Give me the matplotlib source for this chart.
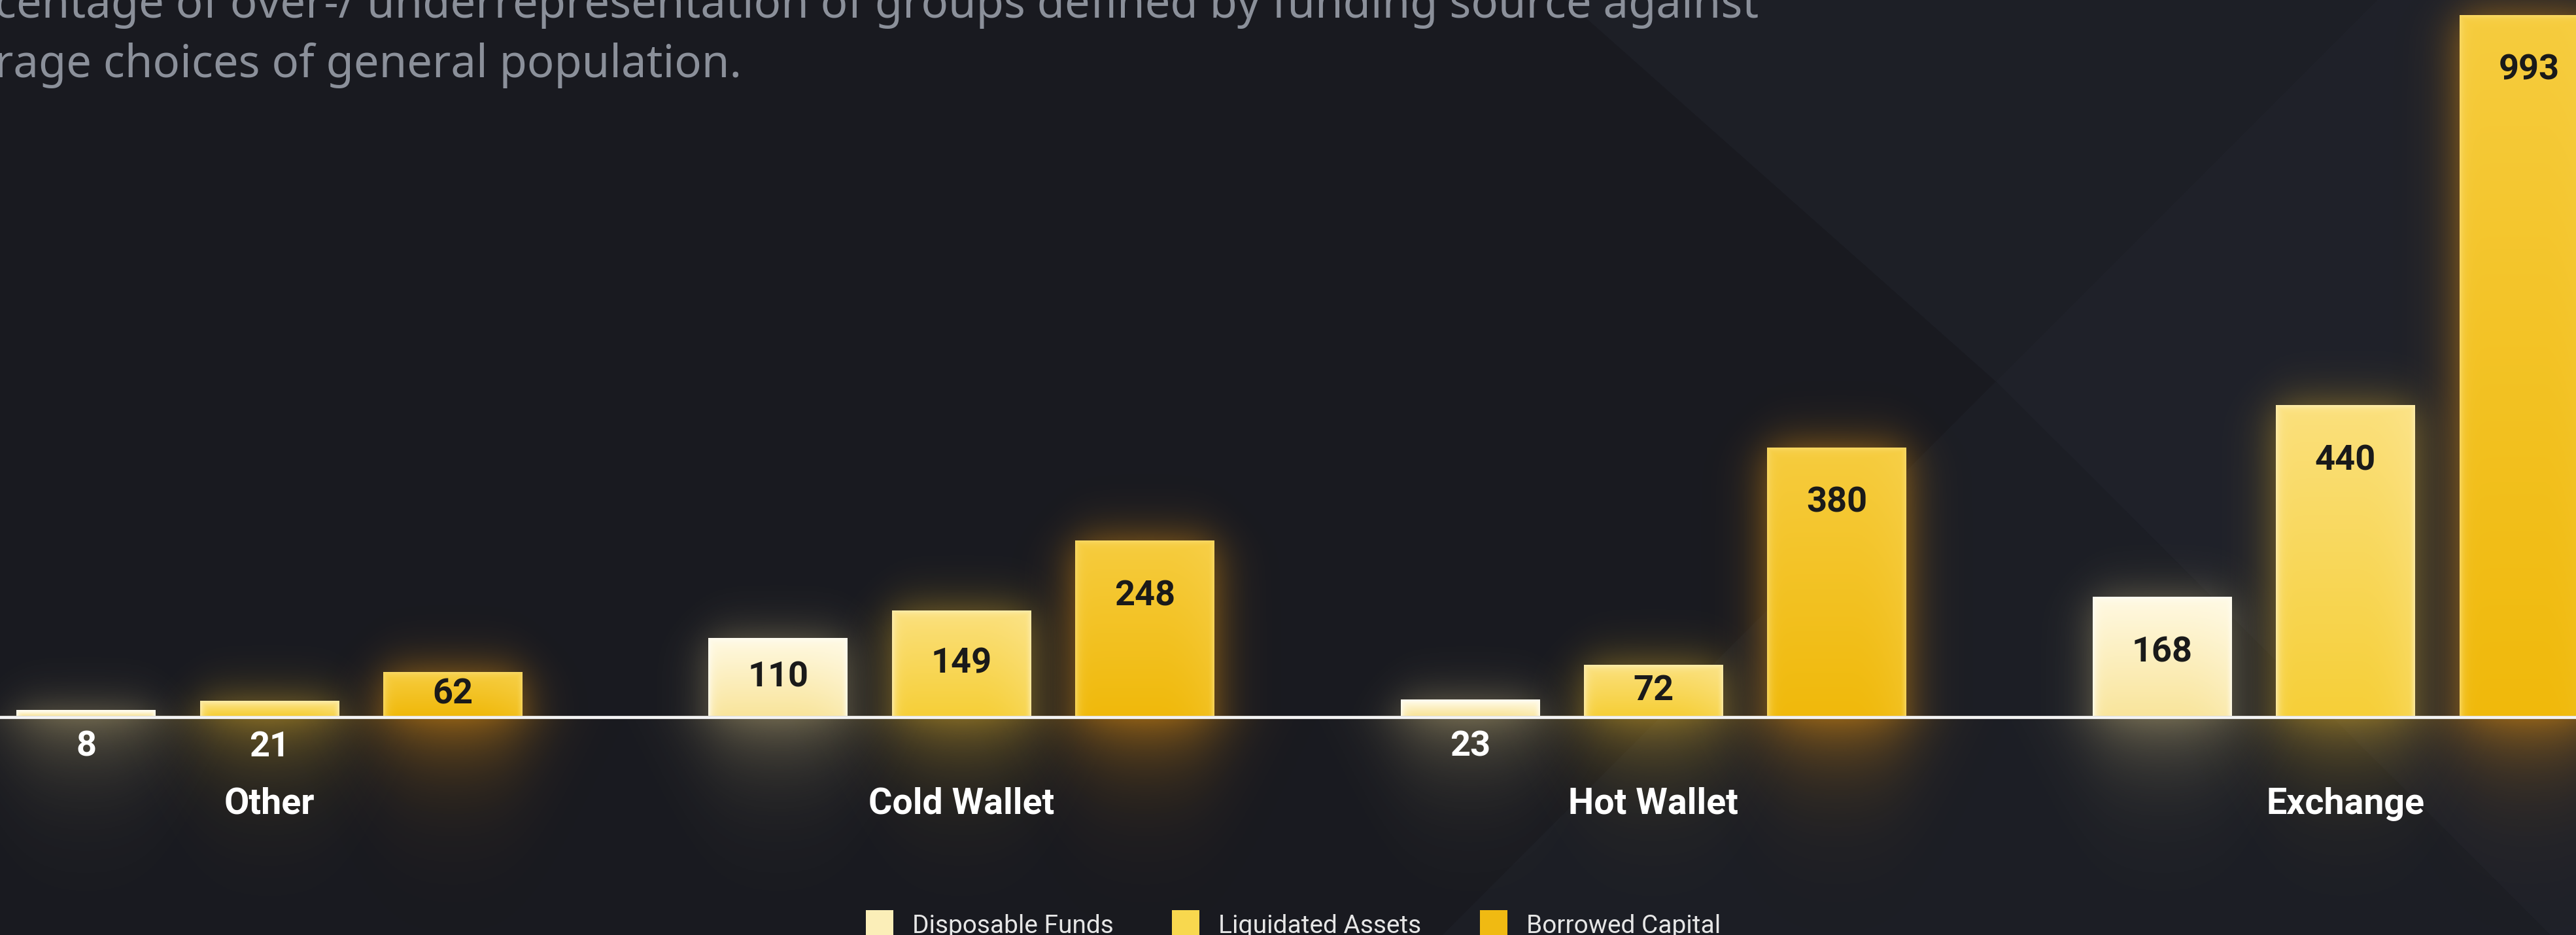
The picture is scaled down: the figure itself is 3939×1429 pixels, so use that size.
import numpy as np
import matplotlib
matplotlib.use('Agg')
import matplotlib.pyplot as plt
from matplotlib.colors import to_rgb
from matplotlib.patches import Polygon

plt.rcParams['font.family'] = ['Roboto', 'DejaVu Sans']

categories = ['Other', 'Cold Wallet', 'Hot Wallet', 'Exchange']
disposable_funds = [8, 110, 23, 168]
liquidated_assets = [21, 149, 72, 440]
borrowed_capital = [62, 248, 380, 993]
series_names = ['Disposable Funds', 'Liquidated Assets', 'Borrowed Capital']

subtitle = ['centage of over-/ underrepresentation of groups defined by funding source against',
            'rage choices of general population.']

BG = '#1b1d24'
BAR_W = 0.201
BAR_STEP = 0.265
XLIM = (-0.3893, 3.333)
YLIM = (-310.6, 1014.4)
PX_X = 3939 / (XLIM[1] - XLIM[0])   # pixels per x unit
PX_Y = 1429 / (YLIM[1] - YLIM[0])   # pixels per y unit

# top colour, bottom colour, rim colour, glow colour, flat colour
styles = [
    ('#fff9e2', '#f9e59c', '#fffdf4', '#e0cc8a', '#fbeeb8'),
    ('#fbe07c', '#f6cf38', '#fdeeb2', '#f0bc2a', '#f8d84e'),
    ('#f6cc3e', '#f0b90b', '#f9da6a', '#f0980e', '#f0ba12'),
]
# side glow, glow under the baseline
glow_alpha = [(0.45, 0.46), (0.55, 0.52), (0.65, 0.6)]


def sig(z):
    return 1.0 / (1.0 + np.exp(-z))


def bar_fill(ax, rect, top, bottom, rim):
    x0, w, h = rect.get_x(), rect.get_width(), rect.get_height()
    nx = 107
    ny = max(int(h * PX_Y / 2), 4)
    t = np.linspace(0, 1, ny)[:, None, None]
    img = np.array(to_rgb(top)) * (1 - t) + np.array(to_rgb(bottom)) * t
    img = np.repeat(img, nx, axis=1)
    xs = np.linspace(0, w * PX_X, nx)
    ys = np.linspace(0, h * PX_Y, ny)
    d_side = np.minimum(xs, xs[-1] - xs)[None, :]
    d_top = ys[:, None]
    edge = np.maximum(np.exp(-d_side / 6.0), np.exp(-d_top / 5.0)) * 0.8
    # broad soft sheen towards the right-hand side
    sheen = 0.25 * np.clip((xs / xs[-1] - 0.6) / 0.4, 0, 1)[None, :] ** 2
    edge = np.maximum(edge, sheen)
    img = img * (1 - edge[..., None]) + np.array(to_rgb(rim)) * edge[..., None]
    ax.imshow(img, extent=(x0, x0 + w, 0, h), origin='upper', aspect='auto',
              interpolation='bilinear', zorder=3.5)


def bar_glow(ax, rect, colour, a_side, a_below):
    x0, w, h = rect.get_x(), rect.get_width(), rect.get_height()
    pad = 0.16
    xs = np.linspace(x0 - pad, x0 + w + pad, 200)
    ys = np.linspace(YLIM[0], h + 120, 600)
    X, Y = np.meshgrid(xs, ys)
    sx = 20 / PX_X
    sy = 20 / PX_Y
    fx = sig((X - x0) / sx) - sig((X - x0 - w) / sx)
    fy = sig((h - Y) / sy)
    side = a_side * fx * fy
    sxb = 32 / PX_X
    fxb = sig((X - x0) / sxb) - sig((X - x0 - w) / sxb)
    below = a_below * fxb * np.exp(Y / 62.0)
    alpha = np.where(Y >= 0, side, below)
    rgba = np.zeros(X.shape + (4,))
    rgba[..., :3] = to_rgb(colour)
    rgba[..., 3] = np.clip(alpha, 0, 1)
    ax.imshow(rgba, extent=(xs[0], xs[-1], ys[0], ys[-1]), origin='lower',
              aspect='auto', interpolation='bilinear', zorder=2)


fig = plt.figure(figsize=(39.39, 14.29), dpi=100, facecolor=BG)
ax = fig.add_axes([0, 0, 1, 1])
ax.set_facecolor('none')
ax.axis('off')

# faint diagonal panels in the backdrop
C = (0.7748, 0.592)
panels = [
    ([C, (0.6078, 1), (0, 1), (0, 0), (0.560, 0)], '#191a20'),
    ([C, (0.6078, 1), (0.9228, 1)], '#1d1f26'),
    ([C, (0.9228, 1), (1, 1), (1, 0), (0.990, 0)], '#1f2129'),
    ([C, (0.560, 0), (0.990, 0)], '#1c1e25'),
]
for verts, col in panels:
    ax.add_patch(Polygon(verts, closed=True, transform=ax.transAxes,
                         facecolor=col, edgecolor='none', zorder=0.1))

x = np.arange(len(categories))
series = [disposable_funds, liquidated_assets, borrowed_capital]
handles = []
for i, (vals, name) in enumerate(zip(series, series_names)):
    top, bottom, rim, glow, flat = styles[i]
    bars = ax.bar(x + (i - 1) * BAR_STEP, vals, BAR_W, color=flat, label=name, zorder=3)
    handles.append(bars)
    for rect, v in zip(bars, vals):
        bar_fill(ax, rect, top, bottom, rim)
        bar_glow(ax, rect, glow, *glow_alpha[i])
        xc = rect.get_x() + rect.get_width() / 2
        if v < 40:
            ax.text(xc, -44, str(v), ha='center', va='center', fontsize=39,
                    fontweight='bold', color='white', zorder=6)
        else:
            ax.text(xc, max(v / 2, v - 78), str(v), ha='center', va='center',
                    fontsize=39, fontweight='bold', color='#1a1a1a', zorder=6)

ax.axhline(-2.2, color='#f4f4f4', linewidth=3.4, zorder=5)

for xi, cat in zip(x, categories):
    ax.text(xi, -125, cat, ha='center', va='center', fontsize=40,
            fontweight='bold', color='white', zorder=6)

ax.set_xlim(*XLIM)
ax.set_ylim(*YLIM)

for line, y in zip(subtitle, (27, 118)):
    fig.text(-0.002, 1 - y / 1429, line, ha='left', va='baseline',
             fontsize=49.5, color='#8b909a', family=['Noto Sans', 'DejaVu Sans'])

fig.legend(handles=handles, labels=series_names, loc='center',
           bbox_to_anchor=(0.502, 0.011), ncol=3, frameon=False, fontsize=28,
           labelcolor='#e6e6e6', handlelength=1.08, handleheight=1.4,
           handletextpad=0.75, columnspacing=2.3)

fig.savefig('out.png', dpi=100, facecolor=BG)
